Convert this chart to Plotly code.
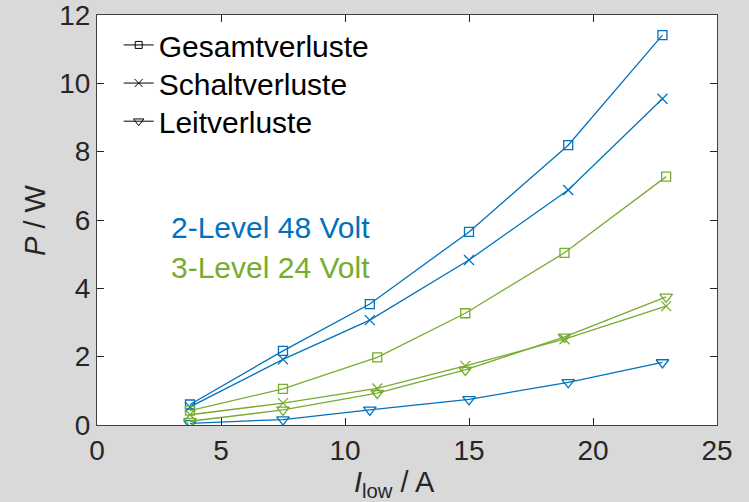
import plotly.graph_objects as go

# Load current (A) for each operating point
current_2l = [3.75, 7.5, 11.0, 15.0, 19.0, 22.8]
current_3l = [3.75, 7.5, 11.3, 14.85, 18.85, 22.95]

# 2-Level converter, 48 V (W)
gesamt_2l = [0.60, 2.17, 3.54, 5.65, 8.19, 11.41]
schalt_2l = [0.53, 1.92, 3.07, 4.83, 6.88, 9.55]
leit_2l = [0.05, 0.16, 0.44, 0.75, 1.25, 1.83]

# 3-Level converter, 24 V (W)
gesamt_3l = [0.42, 1.06, 1.98, 3.27, 5.04, 7.27]
schalt_3l = [0.30, 0.64, 1.07, 1.73, 2.51, 3.48]
leit_3l = [0.11, 0.44, 0.93, 1.61, 2.58, 3.75]

legend_names = ["Gesamtverluste", "Schaltverluste", "Leitverluste"]
symbols = ["square-open", "x-thin-open", "triangle-down-open"]
marker_sizes = [9, 10, 11]

BLUE = "#0072BD"
GREEN = "#77AC30"
TEXT = "#262626"
FONT = "Liberation Sans, Arial, sans-serif"

fig = go.Figure()

series = [
    (current_2l, [gesamt_2l, schalt_2l, leit_2l], BLUE),
    (current_3l, [gesamt_3l, schalt_3l, leit_3l], GREEN),
]
for xs, groups, color in series:
    for ys, sym, size in zip(groups, symbols, marker_sizes):
        fig.add_trace(go.Scatter(
            x=xs, y=ys, mode="lines+markers", showlegend=False,
            line=dict(color=color, width=1.3),
            marker=dict(symbol=sym, size=size, color=color,
                        line=dict(color=color, width=1.3)),
        ))

# Black legend entries describing the marker meaning, one legend box per row
legend_ids = ["legend", "legend2", "legend3"]
for name, sym, size, lid in zip(legend_names, symbols, marker_sizes, legend_ids):
    fig.add_trace(go.Scatter(
        x=[None], y=[None], mode="lines+markers", name=name, legend=lid,
        line=dict(color="black", width=1),
        marker=dict(symbol=sym, size=size - 2, color="black",
                    line=dict(color="black", width=1)),
    ))

axis_common = dict(
    showgrid=False, zeroline=False, ticks="inside", ticklen=7,
    tickcolor=TEXT, showline=True, linecolor="#404040", linewidth=1,
    mirror="ticks", ticklabeloverflow="allow", automargin=False,
    tickfont=dict(family=FONT, size=28, color=TEXT),
)

legend_rows = [0.927, 0.834, 0.741]
legend_style = dict(
    x=0.035, xanchor="left", yanchor="middle",
    bgcolor="rgba(0,0,0,0)", font=dict(family=FONT, size=30, color="black"),
    itemwidth=30,
)

fig.update_layout(
    width=749, height=502,
    margin=dict(l=97, r=32, t=15, b=77),
    paper_bgcolor="#d9d9d9", plot_bgcolor="white",
    font=dict(family=FONT, color=TEXT),
    xaxis=dict(range=[0, 25], tickvals=[0, 5, 10, 15, 20, 25], **axis_common),
    yaxis=dict(range=[0, 12], tickvals=[0, 2, 4, 6, 8, 10, 12], **axis_common),
    legend=dict(y=legend_rows[0], **legend_style),
    legend2=dict(y=legend_rows[1], **legend_style),
    legend3=dict(y=legend_rows[2], **legend_style),
    annotations=[
        dict(x=2.9, y=5.77, xref="x", yref="y", text="2-Level 48 Volt",
             showarrow=False, xanchor="left", yanchor="middle",
             font=dict(family=FONT, size=30, color=BLUE)),
        dict(x=2.9, y=4.62, xref="x", yref="y", text="3-Level 24 Volt",
             showarrow=False, xanchor="left", yanchor="middle",
             font=dict(family=FONT, size=30, color=GREEN)),
        dict(x=12.0, y=-0.145, xref="x", yref="paper",
             text="<i>I</i><sub>low</sub> / A", showarrow=False,
             xanchor="center", yanchor="middle",
             font=dict(family=FONT, size=29, color=TEXT)),
        dict(x=-0.1, y=0.5, xref="paper", yref="paper", text="<i>P</i> / W",
             showarrow=False, textangle=-90, xanchor="center", yanchor="middle",
             font=dict(family=FONT, size=29, color=TEXT)),
    ],
)

fig.write_html("out.html")
